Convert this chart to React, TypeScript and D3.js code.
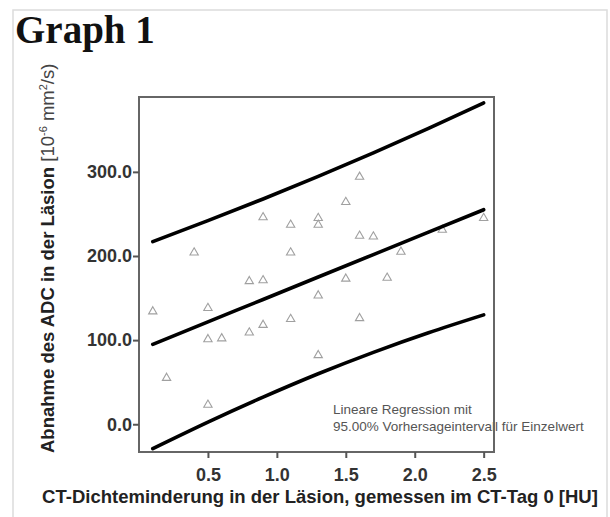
import { useEffect, useRef } from 'react';
import * as d3 from 'd3';

// values
const xTicks = [0.5, 1.0, 1.5, 2.0, 2.5];
const yTicks = [0, 100, 200, 300];

const pointX = [1.6, 1.5, 0.9, 1.1, 1.3, 1.3, 1.6, 1.7, 0.4, 1.1, 1.9, 2.2, 2.5, 0.8, 0.9, 1.5, 1.8, 0.1, 0.5, 1.3, 1.1, 1.6, 0.9, 0.8, 0.5, 0.6, 1.3, 0.2, 0.5];
const pointY = [294, 264, 246, 237, 245, 237, 224, 223, 204, 204, 205, 231, 245, 170, 171, 173, 174, 134, 138, 153, 125, 126, 118, 109, 101, 102, 82, 55, 23];

const bandX = [0.1, 0.5, 0.9, 1.3, 1.7, 2.1, 2.5];
const fitY = [95, 121.7, 148.3, 175, 201.7, 228.3, 255];
const upperY = [217, 242, 267.8, 294.6, 322.6, 351.8, 382];
const lowerY = [-29, 2.5, 32.2, 60, 85.5, 108.8, 130];

const FONT = '"Liberation Sans", Arial, sans-serif';

export default function App() {
    const svgRef = useRef<SVGSVGElement | null>(null);

    useEffect(() => {
        if (!svgRef.current) return;
        const svg = d3.select(svgRef.current);
        svg.selectAll('*').remove();

        const left = 139, right = 494, top = 97, bottom = 452;

        const x = d3.scaleLinear().domain([0, 2.575]).range([left, right]);
        const y = d3.scaleLinear().domain([-33, 389]).range([bottom, top]);

        // outer light frame
        svg.append('path')
            .attr('d', 'M13,517 L13,10 L607,10 L607,517')
            .attr('fill', 'none')
            .attr('stroke', '#dcdcdc')
            .attr('stroke-width', 1.5);

        svg.append('text')
            .attr('x', 15)
            .attr('y', 43)
            .attr('font-family', '"Liberation Serif", "Times New Roman", serif')
            .attr('font-weight', 'bold')
            .attr('font-size', 39)
            .attr('fill', '#111')
            .text('Graph 1');

        // annotation (drawn under the frame)
        const note = svg.append('text')
            .attr('font-family', FONT)
            .attr('font-size', 13.5)
            .attr('fill', '#555');
        note.append('tspan').attr('x', 333).attr('y', 414).text('Lineare Regression mit');
        note.append('tspan').attr('x', 333).attr('y', 431).text('95.00% Vorhersageintervall für Einzelwert');

        // points
        svg.append('g')
            .selectAll('path')
            .data(pointX.map((d, i) => [d, pointY[i]]))
            .join('path')
            .attr('d', d3.symbol(d3.symbolTriangle, 30))
            .attr('transform', d => `translate(${x(d[0])},${y(d[1])})`)
            .attr('fill', 'white')
            .attr('stroke', '#a0a0a0')
            .attr('stroke-width', 1.1);

        // regression line and prediction band
        const line = d3.line<number>()
            .x((d, i) => x(bandX[i]))
            .y(d => y(d))
            .curve(d3.curveNatural);

        [upperY, fitY, lowerY].forEach(s => {
            svg.append('path')
                .attr('d', line(s))
                .attr('fill', 'none')
                .attr('stroke', '#000')
                .attr('stroke-width', 3.6)
                .attr('stroke-linecap', 'round');
        });

        // plot frame
        svg.append('rect')
            .attr('x', left)
            .attr('y', top)
            .attr('width', right - left)
            .attr('height', bottom - top)
            .attr('fill', 'none')
            .attr('stroke', '#666')
            .attr('stroke-width', 2);

        // x axis
        const xg = svg.append('g').attr('transform', `translate(0,${bottom})`);
        xg.call(d3.axisBottom(x).tickValues(xTicks).tickSize(6).tickPadding(10).tickFormat(d3.format('.1f')));
        xg.select('.domain').remove();
        xg.selectAll('line').attr('stroke', '#555').attr('stroke-width', 2);
        xg.selectAll('text')
            .attr('font-family', FONT)
            .attr('font-weight', 'bold')
            .attr('font-size', 18)
            .attr('fill', '#333');

        // y axis
        const yg = svg.append('g').attr('transform', `translate(${left},0)`);
        yg.call(d3.axisLeft(y).tickValues(yTicks).tickSize(6).tickPadding(1).tickFormat(d3.format('.1f')));
        yg.select('.domain').remove();
        yg.selectAll('line').attr('stroke', '#555').attr('stroke-width', 2);
        yg.selectAll('text')
            .attr('font-family', FONT)
            .attr('font-weight', 'bold')
            .attr('font-size', 18)
            .attr('fill', '#333');

        // axis titles
        svg.append('text')
            .attr('x', 320)
            .attr('y', 503)
            .attr('text-anchor', 'middle')
            .attr('font-family', FONT)
            .attr('font-weight', 'bold')
            .attr('font-size', 18.5)
            .attr('fill', '#222')
            .text('CT-Dichteminderung in der Läsion, gemessen im CT-Tag 0 [HU]');

        const yt = svg.append('text')
            .attr('transform', 'translate(54,453) rotate(-90)')
            .attr('font-family', FONT)
            .attr('font-size', 18.5)
            .attr('fill', '#222');
        yt.append('tspan').attr('font-weight', 'bold').text('Abnahme des ADC in der Läsion ');
        yt.append('tspan').attr('fill', '#444').text('[10');
        yt.append('tspan').attr('font-size', 11).attr('dy', -7).attr('fill', '#444').text('-6');
        yt.append('tspan').attr('dy', 7).attr('fill', '#444').text(' mm');
        yt.append('tspan').attr('font-size', 11).attr('dy', -7).attr('fill', '#444').text('2');
        yt.append('tspan').attr('dy', 7).attr('fill', '#444').text('/s)');
    }, []);

    return (
        <svg
            ref={svgRef}
            width={610}
            height={517}
            style={{ position: 'absolute', left: 0, top: 0, background: 'white' }}
        ></svg>
    );
}
